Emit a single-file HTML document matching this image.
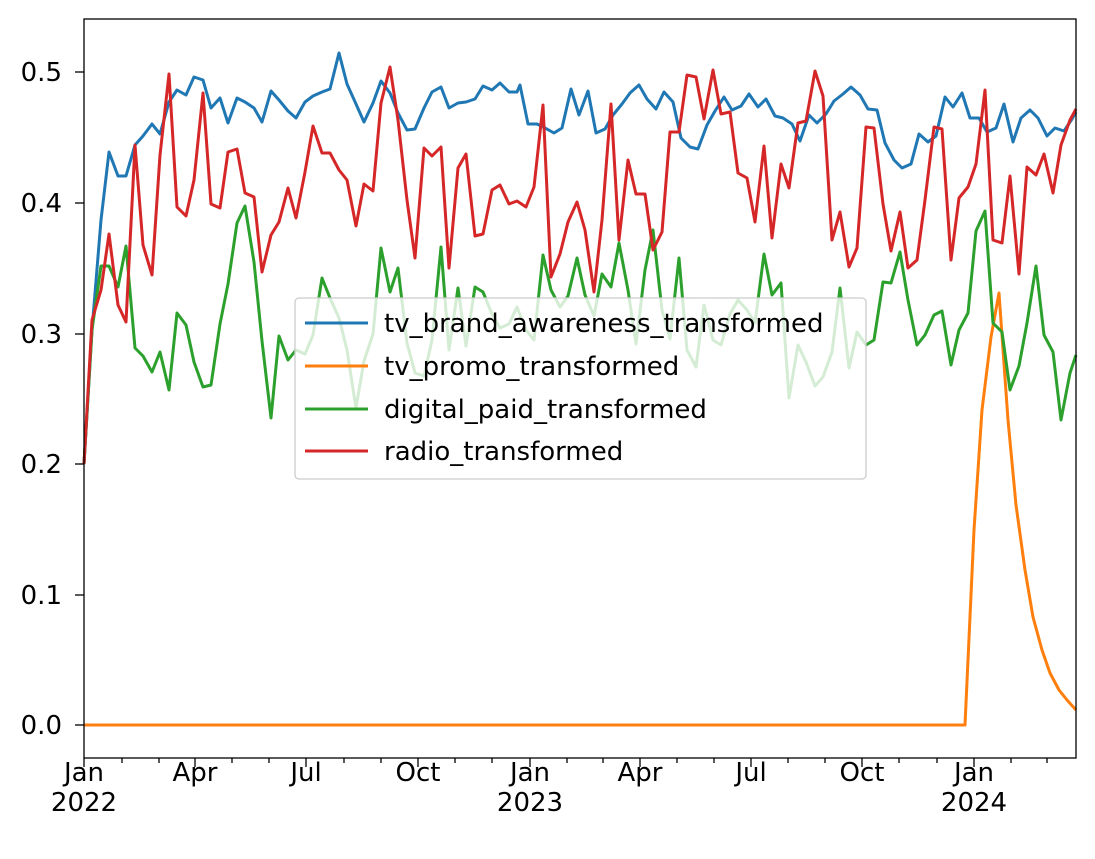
<!DOCTYPE html>
<html><head><style>body{margin:0;background:#fff}svg{display:block;font-family:"DejaVu Sans","Liberation Sans",sans-serif}</style></head><body>
<svg width="1095" height="859" viewBox="0 0 1095 859" xmlns="http://www.w3.org/2000/svg">
<rect width="1095" height="859" fill="#fff"/>
<g fill="none" stroke-width="3" stroke-linejoin="round">
<polyline stroke="#1f77b4" points="84,464 92,330 101,220 109,152 118,176 126,176 135,145 143,136 152,124 160,134 169,102 177,90 186,95 194,77 203,80 211,108 220,98 228,123 237,98 245,102 254,108 262,122 271,91 279,100 288,111 296,118 305,102 313,96 322,92 330,89 339,53 347,84 356,104 364,122 373,103 381,81 390,93 398,113 407,130 415,129 424,108 432,92 441,87 449,108 458,103 466,102 475,99 483,86 492,90 500,83 509,92 517,92 520,85 528,124 537,124 545,128 554,133 562,128 571,89 579,115 588,91 596,133 605,129 613,115 622,104 630,93 639,85 647,99 656,109 664,92 673,102 681,138 690,147 698,149 707,125 715,111 724,97 732,110 741,106 749,94 758,107 766,99 775,116 783,118 792,124 800,141 809,115 817,123 826,114 834,101 843,94 851,87 860,95 868,109 877,110 885,143 894,160 902,168 911,164 919,134 928,142 936,136 945,97 953,107 962,93 970,118 979,118 987,132 996,128 1004,104 1013,142 1021,118 1030,110 1038,118 1047,136 1055,128 1064,131 1072,119 1076,112"/>
<polyline stroke="#ff7f0e" points="84,725 965,725 974,530 982,410 991,337 999,293 1008,420 1016,505 1025,570 1033,617 1042,650 1050,673 1059,690 1067,700 1076,710"/>
<polyline stroke="#2ca02c" points="84,464 92,330 101,266 109,266 118,287 126,246 135,348 143,356 152,372 160,352 169,390 177,313 186,325 194,362 203,387 211,385 220,324 228,284 237,223 245,206 254,262 262,341 271,418 279,336 288,360 296,350 305,354 313,335 322,278 330,298 339,318 347,350 356,408 364,361 373,334 381,248 390,292 398,268 407,343 415,373 424,376 432,340 441,247 449,350 458,288 466,346 475,287 483,292 492,314 500,328 509,324 517,307 526,330 534,340 543,255 551,290 560,307 568,296 577,258 585,295 594,316 602,274 611,287 619,243 628,290 636,344 645,270 653,230 662,310 670,339 679,258 687,350 696,367 704,305 713,340 721,345 730,314 738,300 747,310 755,323 764,254 772,295 781,283 789,398 798,345 806,362 815,386 823,377 832,352 840,288 849,368 857,332 866,345 874,340 883,282 891,283 900,252 908,300 917,345 925,335 934,315 942,311 951,365 959,330 968,313 976,231 985,211 993,323 1002,332 1010,390 1019,366 1027,323 1036,266 1044,335 1053,352 1061,420 1070,373 1076,355"/>
<polyline stroke="#d62728" points="84,464 92,320 101,290 109,234 118,305 126,322 135,145 143,245 152,275 160,155 169,74 177,207 186,216 194,180 203,93 211,204 220,208 228,152 237,149 245,193 254,197 262,272 271,235 279,222 288,188 296,218 305,172 313,126 322,153 330,153 339,170 347,180 356,226 364,184 373,191 381,103 390,67 398,120 407,200 415,258 424,148 432,156 441,147 449,268 458,168 466,154 475,236 483,234 492,190 500,185 509,204 517,201 526,207 534,187 543,105 551,277 560,254 568,222 577,202 585,230 594,292 602,220 611,104 619,240 628,160 636,194 645,194 653,250 662,232 670,132 679,132 687,75 696,77 704,119 713,70 721,114 730,112 738,173 747,178 755,222 764,146 772,238 781,164 789,188 798,123 806,121 815,71 823,96 832,240 840,212 849,267 857,248 866,127 874,128 883,204 891,251 900,212 908,268 917,260 925,200 934,127 942,129 951,260 959,198 968,187 976,164 985,90 993,240 1002,243 1010,176 1019,274 1027,167 1036,175 1044,154 1053,193 1061,145 1070,120 1076,109"/>
</g>
<rect x="84" y="19" width="992" height="739" fill="none" stroke="#000" stroke-width="1.3"/>
<g stroke="#000" stroke-width="1.3">
<line x1="75" y1="725" x2="84" y2="725"/><line x1="75" y1="595" x2="84" y2="595"/><line x1="75" y1="464" x2="84" y2="464"/><line x1="75" y1="334" x2="84" y2="334"/><line x1="75" y1="203" x2="84" y2="203"/><line x1="75" y1="72" x2="84" y2="72"/>
<line x1="84" y1="758" x2="84" y2="767"/><line x1="195" y1="758" x2="195" y2="767"/><line x1="306" y1="758" x2="306" y2="767"/><line x1="418" y1="758" x2="418" y2="767"/><line x1="530" y1="758" x2="530" y2="767"/><line x1="640" y1="758" x2="640" y2="767"/><line x1="751" y1="758" x2="751" y2="767"/><line x1="862" y1="758" x2="862" y2="767"/><line x1="974" y1="758" x2="974" y2="767"/>
<path d="M122,758v5M159,758v5M232,758v5M269,758v5M344,758v5M381,758v5M455,758v5M492,758v5M567,758v5M603,758v5M677,758v5M714,758v5M788,758v5M825,758v5M899,758v5M937,758v5M1011,758v5M1047,758v5"/>
</g>
<g font-size="26" fill="#000" text-anchor="end">
<text x="62" y="734">0.0</text><text x="62" y="604">0.1</text><text x="62" y="473">0.2</text><text x="62" y="343">0.3</text><text x="62" y="212">0.4</text><text x="62" y="81">0.5</text>
</g>
<g font-size="26" fill="#000" text-anchor="middle">
<text x="84" y="781">Jan</text><text x="84" y="811">2022</text><text x="195" y="781">Apr</text><text x="306" y="781">Jul</text><text x="418" y="781">Oct</text><text x="530" y="781">Jan</text><text x="530" y="811">2023</text><text x="640" y="781">Apr</text><text x="751" y="781">Jul</text><text x="862" y="781">Oct</text><text x="974" y="781">Jan</text><text x="974" y="811">2024</text>
</g>
<rect x="295" y="298" width="571" height="181" rx="4" fill="#fff" fill-opacity="0.8" stroke="#ccc" stroke-width="1.3"/>
<g stroke-width="3"><line x1="305" y1="323" x2="368" y2="323" stroke="#1f77b4"/><line x1="305" y1="366" x2="368" y2="366" stroke="#ff7f0e"/><line x1="305" y1="409" x2="368" y2="409" stroke="#2ca02c"/><line x1="305" y1="451" x2="368" y2="451" stroke="#d62728"/></g>
<g font-size="26" fill="#000"><text x="384" y="332">tv_brand_awareness_transformed</text><text x="384" y="375">tv_promo_transformed</text><text x="384" y="418">digital_paid_transformed</text><text x="384" y="460">radio_transformed</text></g>
</svg>
</body></html>
